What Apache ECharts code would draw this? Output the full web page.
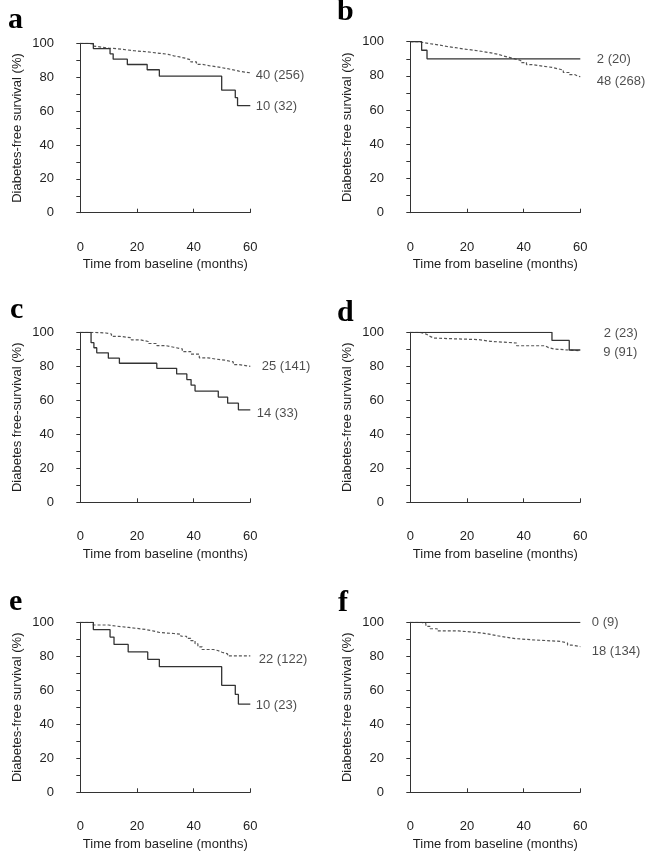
<!DOCTYPE html>
<html>
<head>
<meta charset="utf-8">
<script src="https://cdn.jsdelivr.net/npm/echarts@6/dist/echarts.min.js"></script>
<style>
html,body{margin:0;padding:0;background:#fff;}
#chart{width:654px;height:859px;}
</style>
</head>
<body>
<div id="chart"></div>
<script>
// Kaplan-Meier step data: [month, survival %]
const aSolid  = [[0,100],[4.6,96.9],[10.5,93.8],[11.6,90.6],[16.6,87.5],[23.6,84.4],[27.9,80.6],[49.9,72.3],[54.7,67.9],[55.5,63.2],[60,63.2]];
const aDashed = [[0,100],[3,99.6],[4.5,98.4],[5,97.6],[8,97.2],[10,96.8],[13,96.2],[16,95.6],[19,95.2],[22,94.7],[25,94.1],[28,93.5],[31,92.6],[33,92.0],[35,91.2],[37,90.2],[39,89.0],[41,87.6],[43,86.6],[46,86.2],[48,85.6],[50,85.0],[52,84.3],[54,83.6],[56,83.0],[58,82.6],[60,82.6]];
const bSolid  = [[0,100],[4,95],[5.9,90],[60,90]];
const bDashed = [[0,100],[3,99.4],[5,98.8],[7,98.1],[10,97.2],[13,96.5],[16,95.7],[19,95.1],[22,94.4],[25,93.6],[28,92.6],[31,91.6],[33,90.8],[35,89.9],[37,89],[39,87.8],[41,86.6],[43,85.6],[47,85.0],[50,84.2],[52,83.4],[54,82],[56,80.8],[58,80],[59,79.5],[60,79.5]];
const cSolid  = [[0,100],[3.8,93.9],[4.8,90.9],[5.8,87.9],[9.9,84.8],[13.8,81.8],[27,78.8],[34,75.5],[37.6,72.2],[39.1,68.9],[40.5,65.4],[48.7,61.9],[52,58.3],[55.8,54.4],[60,54.4]];
const cDashed = [[0,100],[5,99.6],[9,99.0],[11,97.6],[14,96.8],[18,95.6],[21,94.6],[24,93.4],[27,92.2],[30,91.2],[33,90.2],[36,88.6],[39,87.2],[42,85],[45,84.2],[48,83.6],[51,82.6],[54,81],[56,80],[60,80]];
const dSolid  = [[0,100],[50,95.2],[56.1,89.6],[60,89.6]];
const dDashed = [[0,100],[3.5,99.4],[4.8,98.6],[6,97.6],[7,96.6],[8.3,95.7],[24,94.7],[28.3,93.7],[37.5,92.1],[47.5,91.0],[48.8,90.2],[50.6,89.1],[60,89.1]];
const eSolid  = [[0,100],[4.6,95.7],[10.5,91.3],[11.9,87.0],[16.9,82.6],[23.8,78.2],[27.9,73.9],[49.9,62.9],[54.7,57.6],[55.8,51.9],[60,51.9]];
const eDashed = [[0,100],[4.5,98.4],[10,97.8],[12.5,97],[17,96.4],[20,95.8],[23,94.8],[26,94],[28,93.4],[33,93],[35.5,91.8],[37.5,90.6],[39,89.2],[40.5,87.4],[41.5,85.6],[43,84],[47,83.4],[48.5,82.4],[50,81.4],[52,80.2],[60,80.2]];
const fSolid  = [[0,100],[60,100]];
const fDashed = [[0,100],[4,99.2],[5.5,97.6],[7,96.2],[9.5,94.9],[17,94.4],[21,93.8],[25,92.8],[28.5,92],[31,91.2],[34,90.4],[37,89.6],[44,88.8],[53,87.8],[55.5,86.6],[57,85.7],[60,85.7]];

const panelLetters = ['a','b','c','d','e','f'];
const solidLabels  = ['10 (32)','2 (20)','14 (33)','2 (23)','10 (23)','0 (9)'];
const dashedLabels = ['40 (256)','48 (268)','25 (141)','9 (91)','22 (122)','18 (134)'];
const yTitles = ['Diabetes-free survival (%)','Diabetes-free survival (%)','Diabetes free-survival (%)','Diabetes-free survival (%)','Diabetes-free survival (%)','Diabetes-free survival (%)'];
const xTitle = 'Time from baseline (months)';

const solids = [aSolid,bSolid,cSolid,dSolid,eSolid,fSolid];
const dashes = [aDashed,bDashed,cDashed,dDashed,eDashed,fDashed];

// layout (pixels)
const grids = [
  {left:80.3, top:43.3, width:170, height:169.4},
  {left:410.3, top:41.7, width:170, height:171},
  {left:80.3, top:332.3, width:170, height:170},
  {left:410.3, top:332.3, width:170, height:170},
  {left:80.3, top:622.3, width:170, height:170},
  {left:410.3, top:622.3, width:170, height:170}
];
const solidLabelPos  = [[5,1],[16,1],[6,3.5],[23,-16.7],[5,1],[11,0]];
const dashedLabelPos = [[5,3],[16,5],[11,0],[22.5,2],[8,3],[11,5]];
const letterPos = [[8,19.9],[337,12.6],[10,309.9],[337,312.9],[9,601.9],[338,602.9]];

const FONT = '"Liberation Sans", Arial, Helvetica, sans-serif';
const TXT = '#1e1e1e';
const AX = '#333';

const xAxes = [], yAxes = [], series = [], graphics = [];
grids.forEach((g, i) => {
  xAxes.push({
    gridIndex:i, type:'value', min:0, max:60, interval:20, offset:20,
    axisLine:{show:true, lineStyle:{color:AX, width:1}},
    axisTick:{show:true, inside:true, length:4, lineStyle:{color:AX}},
    splitLine:{show:false},
    axisLabel:{margin:8, fontSize:13, color:TXT, fontFamily:FONT},
    name:xTitle, nameLocation:'middle', nameGap:25.5,
    nameTextStyle:{fontSize:13, color:TXT, fontFamily:FONT}
  });
  yAxes.push({
    gridIndex:i, type:'value', min:0, max:100, interval:20, offset:19.3,
    axisLine:{show:true, lineStyle:{color:AX, width:1}},
    axisTick:{show:true, length:4, lineStyle:{color:AX}},
    minorTick:{show:true, splitNumber:2, length:4, lineStyle:{color:AX}},
    splitLine:{show:false},
    axisLabel:{margin:7, fontSize:13, color:TXT, fontFamily:FONT},
    name:yTitles[i], nameLocation:'middle', nameGap:37,
    nameTextStyle:{fontSize:13, color:TXT, fontFamily:FONT}
  });
  series.push({
    type:'line', xAxisIndex:i, yAxisIndex:i, step:'end', symbol:'none',
    data:dashes[i], lineStyle:{color:'#555', width:1.2, type:[3,2]}, z:2
  });
  series.push({
    type:'line', xAxisIndex:i, yAxisIndex:i, step:'end', symbol:'none',
    data:solids[i], lineStyle:{color:'#333', width:1.3, type:'solid'}, z:3
  });
  const sl = solids[i][solids[i].length-1];
  const dl = dashes[i][dashes[i].length-1];
  series.push({
    type:'scatter', xAxisIndex:i, yAxisIndex:i, symbolSize:1, silent:true,
    itemStyle:{color:'rgba(0,0,0,0)'},
    data:[
      {value:sl, label:{formatter:solidLabels[i], offset:[solidLabelPos[i][0]-5, solidLabelPos[i][1]]}},
      {value:dl, label:{formatter:dashedLabels[i], offset:[dashedLabelPos[i][0]-5, dashedLabelPos[i][1]]}}
    ],
    label:{show:true, position:'right', distance:5, fontSize:13, color:TXT, fontFamily:FONT}
  });
  graphics.push({
    type:'text', x:letterPos[i][0], y:letterPos[i][1],
    style:{text:panelLetters[i], font:'bold 30px "Liberation Serif", "Times New Roman", serif', fill:'#000', verticalAlign:'middle', align:'left'}
  });
});

const chart = echarts.init(document.getElementById('chart'), null, {renderer:'canvas'});
chart.setOption({
  animation:false,
  backgroundColor:'#fff',
  grid:grids,
  xAxis:xAxes,
  yAxis:yAxes,
  series:series,
  graphic:graphics
});
</script>
</body>
</html>
